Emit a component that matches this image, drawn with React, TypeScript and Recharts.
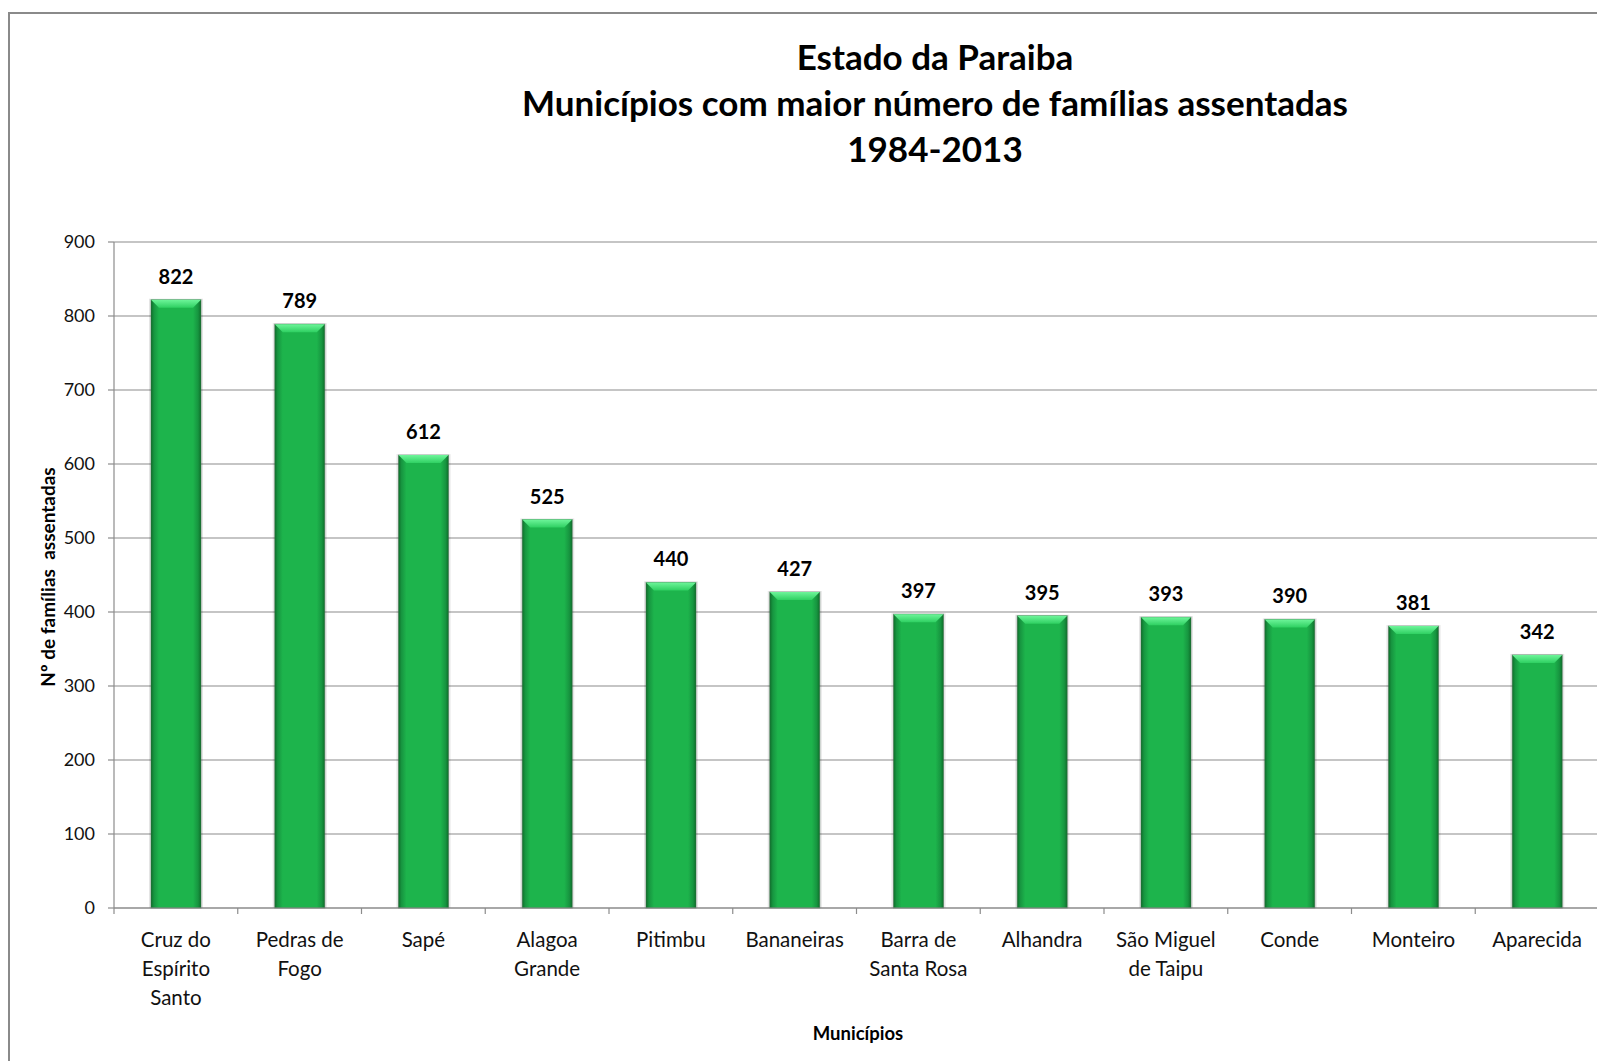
import React from "react";
import { BarChart, Bar, XAxis, YAxis, CartesianGrid, LabelList } from "recharts";

const municipios = [
  "Cruz do\nEspírito\nSanto",
  "Pedras de\nFogo",
  "Sapé",
  "Alagoa\nGrande",
  "Pitimbu",
  "Bananeiras",
  "Barra de\nSanta Rosa",
  "Alhandra",
  "São Miguel\nde Taipu",
  "Conde",
  "Monteiro",
  "Aparecida",
];
const familias = [822, 789, 612, 525, 440, 427, 397, 395, 393, 390, 381, 342];
const yTicks = [0, 100, 200, 300, 400, 500, 600, 700, 800, 900];
const titleLines = [
  "Estado da Paraiba",
  "Municípios com maior número de famílias assentadas",
  "1984-2013",
];
const yLabel = "Nº de famílias  assentadas";
const xLabel = "Municípios";

const data = municipios.map((m, i) => ({ name: m, value: familias[i] }));

const FONT = "Lato, 'Noto Sans', sans-serif";
const GRID = "#8c8c8c";

const BarShape = (props: any) => {
  const { x, y, width, height, index } = props;
  if (height <= 0) return null;
  const b = 8;
  const gid = `bg${index}`;
  const tid = `tg${index}`;
  return (
    <g>
      <defs>
        <linearGradient id={gid} x1="0" y1="0" x2="1" y2="0">
          <stop offset="0%" stopColor="#0e6e2a" />
          <stop offset="6%" stopColor="#179540" />
          <stop offset="16%" stopColor="#1db44c" />
          <stop offset="84%" stopColor="#1db44c" />
          <stop offset="94%" stopColor="#179540" />
          <stop offset="100%" stopColor="#0e6e2a" />
        </linearGradient>
        <linearGradient id={tid} x1="0" y1="0" x2="0" y2="1">
          <stop offset="0%" stopColor="#6ef59a" />
          <stop offset="100%" stopColor="#2fd062" />
        </linearGradient>
      </defs>
      <rect x={x - 2} y={y - 1} width={width + 4} height={height + 1} fill="#000" opacity={0.1} />
      <rect x={x} y={y} width={width} height={height} fill={`url(#${gid})`} stroke="#3d6b4a" strokeOpacity={0.5} strokeWidth={1} />
      <polygon
        points={`${x},${y} ${x + width},${y} ${x + width - b},${y + b} ${x + b},${y + b}`}
        fill={`url(#${tid})`}
      />
    </g>
  );
};

const XTick = (props: any) => {
  const { x, y, payload, index } = props;
  const half = payload && payload.offset ? payload.offset : 123.75 / 2;
  const lines = String(payload.value).split("\n");
  return (
    <g>
      <line x1={x - half} y1={y - 8} x2={x - half} y2={y - 2} stroke={GRID} strokeWidth={1.2} />
      {index === municipios.length - 1 && (
        <line x1={x + half} y1={y - 8} x2={x + half} y2={y - 2} stroke={GRID} strokeWidth={1.2} />
      )}
      <text x={x} y={y + 31} textAnchor="middle" fontFamily={FONT} fontSize={20.5} fill="#111">
        {lines.map((l, i) => (
          <tspan key={i} x={x} dy={i === 0 ? 0 : 29}>
            {l}
          </tspan>
        ))}
      </text>
    </g>
  );
};

export default function App() {
  return (
    <div style={{ position: "relative", width: 1597, height: 1053, overflow: "hidden", background: "#fff" }}>
      <div
        style={{
          position: "absolute",
          left: 0,
          top: 4,
          width: 1700,
          height: 1200,
          border: "2px solid #8a8a8a",
          boxSizing: "border-box",
        }}
      />
      <div
        style={{
          position: "absolute",
          left: 927 - 800,
          top: 25,
          width: 1600,
          textAlign: "center",
          fontFamily: FONT,
          fontWeight: 700,
          fontSize: 35,
          lineHeight: "46px",
          color: "#000",
        }}
      >
        {titleLines.map((t, i) => (
          <div key={i}>{t}</div>
        ))}
      </div>
      <BarChart
        width={1597}
        height={1053}
        data={data}
        margin={{ top: 234, right: 6, left: 46, bottom: 53 }}
      >
        <CartesianGrid vertical={false} stroke={GRID} strokeWidth={1.2} />
        <XAxis
          dataKey="name"
          height={100}
          interval={0}
          axisLine={{ stroke: GRID, strokeWidth: 1.2 }}
          tickLine={false}
          tick={<XTick />}
        />
        <YAxis
          width={60}
          domain={[0, 900]}
          ticks={yTicks}
          interval={0}
          axisLine={{ stroke: GRID, strokeWidth: 1.2 }}
          tickLine={{ stroke: GRID, strokeWidth: 1.2 }}
          tickSize={6}
          tickMargin={13}
          tick={{ fontFamily: FONT, fontSize: 18, fill: "#111" }}
        />
        <Bar dataKey="value" barSize={50} isAnimationActive={false} shape={<BarShape />}>
          <LabelList
            dataKey="value"
            position="top"
            offset={16}
            style={{ fontFamily: FONT, fontSize: 20, fontWeight: 700, fill: "#000" }}
          />
        </Bar>
      </BarChart>
      <div
        style={{
          position: "absolute",
          left: 39,
          top: 569,
          transform: "translate(-50%, -50%) rotate(-90deg)",
          whiteSpace: "pre",
          fontFamily: FONT,
          fontWeight: 700,
          fontSize: 19,
          color: "#000",
        }}
      >
        {yLabel}
      </div>
      <div
        style={{
          position: "absolute",
          left: 850,
          top: 1025,
          transform: "translate(-50%, -50%)",
          fontFamily: FONT,
          fontWeight: 700,
          fontSize: 18.5,
          color: "#000",
        }}
      >
        {xLabel}
      </div>
    </div>
  );
}
